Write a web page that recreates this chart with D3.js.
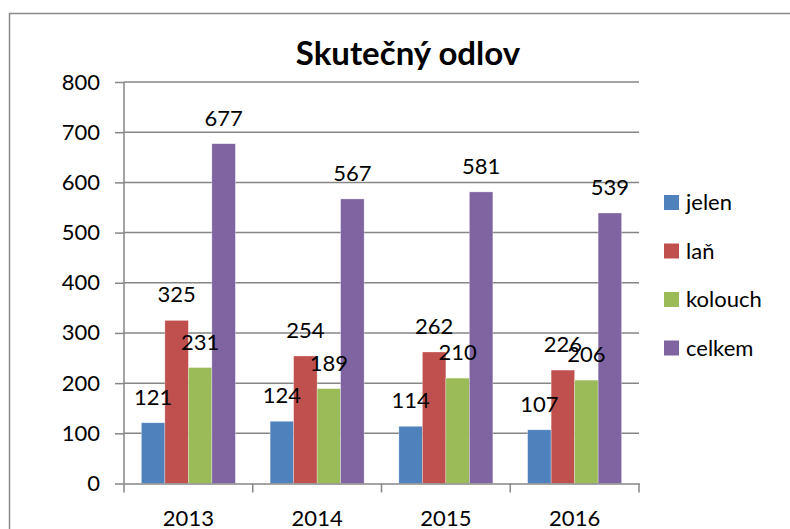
<!DOCTYPE html>
<html>
<head>
<meta charset="utf-8">
<script src="https://cdn.jsdelivr.net/npm/d3@7"></script>
<style>
  body { margin: 0; background: #fff; }
  text { font-family: Lato, "Open Sans", sans-serif; fill: #000; }
</style>
</head>
<body>
<div id="chart"></div>
<script>
// data
const years = ["2013", "2014", "2015", "2016"];
const seriesNames = ["jelen", "laň", "kolouch", "celkem"];
const jelen = [121, 124, 114, 107];
const lan = [325, 254, 262, 226];
const kolouch = [231, 189, 210, 206];
const celkem = [677, 567, 581, 539];
const yTicks = [0, 100, 200, 300, 400, 500, 600, 700, 800];
const colors = ["#4F81BD", "#C0504D", "#9BBB59", "#8064A2"];

const values = [jelen, lan, kolouch, celkem];

const W = 790, H = 529;
const margin = { top: 82, left: 124, right: 151, bottom: 45 };
const width = W - margin.left - margin.right;
const height = H - margin.top - margin.bottom - 0.5;
const fs = "22px";

const svg = d3.select("#chart").append("svg")
  .attr("width", W).attr("height", H);

// outer frame
svg.append("rect")
  .attr("x", 9.5).attr("y", 13.5)
  .attr("width", 800).attr("height", 600)
  .attr("fill", "none").attr("stroke", "#8a8a8a").attr("stroke-width", 1.5);

const g = svg.append("g").attr("transform", `translate(${margin.left},${margin.top})`);

const x0 = d3.scaleBand().domain(years).range([0, width]).padding(0);
const x1 = d3.scaleBand().domain(seriesNames)
  .range([x0.bandwidth() * 0.135, x0.bandwidth() * 0.865]);
const y = d3.scaleLinear().domain([0, 800]).range([height, 0]);

// gridlines
g.selectAll(".grid").data(yTicks.slice(1)).enter().append("line")
  .attr("x1", 0).attr("x2", width)
  .attr("y1", d => y(d)).attr("y2", d => y(d))
  .attr("stroke", "#868686").attr("stroke-width", 1.5);

// bars
seriesNames.forEach((s, i) => {
  g.selectAll(".bar-" + i).data(values[i]).enter().append("rect")
    .attr("x", (d, j) => x0(years[j]) + x1(s))
    .attr("width", x1.bandwidth())
    .attr("y", d => y(d))
    .attr("height", d => height - y(d))
    .attr("fill", colors[i])
    .attr("stroke", "#fff").attr("stroke-opacity", 0.5).attr("stroke-width", 0.6);
});

// value labels
seriesNames.forEach((s, i) => {
  g.selectAll(".lab-" + i).data(values[i]).enter().append("text")
    .attr("x", (d, j) => x0(years[j]) + x1(s) + x1.bandwidth() / 2)
    .attr("y", d => y(d) - 18)
    .attr("text-anchor", "middle")
    .style("font-size", fs)
    .text(d => d);
});

// y axis
const yAxis = g.append("g")
  .call(d3.axisLeft(y).tickValues(yTicks).tickSize(9).tickPadding(15));
yAxis.select(".domain").attr("stroke", "#868686").attr("stroke-width", 1.5)
  .attr("d", `M0,${height}V0`);
yAxis.selectAll(".tick line").attr("stroke", "#868686").attr("stroke-width", 1.5);
yAxis.selectAll("text").style("font-size", fs).attr("fill", "#000")
  .style("font-family", "Lato, 'Open Sans', sans-serif");

// x axis
const xAxis = g.append("g").attr("transform", `translate(0,${height})`)
  .call(d3.axisBottom(x0).tickSize(0).tickPadding(27));
xAxis.select(".domain").attr("stroke", "#868686").attr("stroke-width", 1.5);
xAxis.selectAll("text").style("font-size", fs).attr("fill", "#000")
  .style("font-family", "Lato, 'Open Sans', sans-serif");
// category separator ticks
g.selectAll(".xsep").data(years.concat(["end"])).enter().append("line")
  .attr("x1", (d, j) => j * x0.step()).attr("x2", (d, j) => j * x0.step())
  .attr("y1", height).attr("y2", height + 9)
  .attr("stroke", "#868686").attr("stroke-width", 1.5);

// title
svg.append("text")
  .attr("x", 408).attr("y", 65)
  .attr("text-anchor", "middle")
  .style("font-size", "33px").style("font-weight", "bold")
  .text("Skutečný odlov");

// legend
const legend = svg.append("g").attr("transform", "translate(664,195)");
seriesNames.forEach((s, i) => {
  const row = legend.append("g").attr("transform", `translate(0,${i * 48.5})`);
  row.append("rect").attr("width", 15).attr("height", 15).attr("fill", colors[i]);
  row.append("text").attr("x", 22).attr("y", 15)
    .style("font-size", fs).text(s);
});
</script>
</body>
</html>
